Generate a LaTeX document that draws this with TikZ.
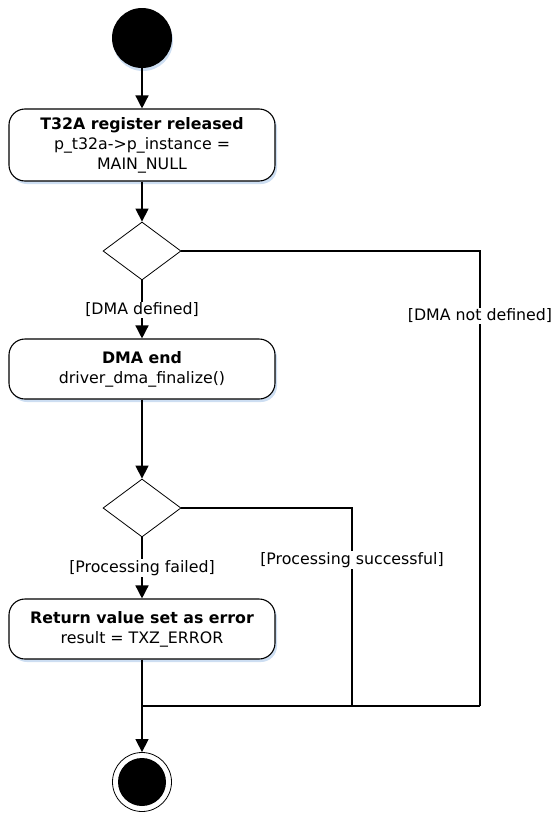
\documentclass[tikz,border=0pt]{standalone}
\usepackage{fontspec}
\setmainfont{DejaVu Sans}
\usetikzlibrary{arrows.meta,shapes.geometric,shadows}
\definecolor{shadowblue}{RGB}{205,222,242}

\begin{document}
\begin{tikzpicture}[x=1pt,y=-1pt,
  action/.style={rectangle, rounded corners=16pt, draw, line width=1.1pt, fill=white,
    minimum width=266pt, align=center, font=\fontsize{15.8}{20}\selectfont,
    drop shadow={shadow xshift=2pt, shadow yshift=-3pt, fill=shadowblue, opacity=1}},
  decision/.style={diamond, draw, line width=0.8pt, fill=white, inner sep=0pt,
    minimum width=78pt, minimum height=58pt},
  guard/.style={fill=white, inner sep=1pt, font=\fontsize{15.8}{20}\selectfont},
  flow/.style={line width=1.4pt, -{Triangle[length=13pt,width=13pt]}},
  joinline/.style={line width=1.4pt}]
\useasboundingbox (0,0) rectangle (551,814);
\node[circle, fill, inner sep=0pt, minimum size=60pt,
  drop shadow={shadow xshift=1pt, shadow yshift=-3pt, fill=shadowblue, opacity=1}] (start) at (142,38){};
\node[action, minimum height=72pt] (act1) at (142,145){\textbf{T32A register released}\\p\_t32a->p\_instance =\\MAIN\_NULL};
\node[decision] (dec1) at (142,251){};
\node[action, minimum height=60pt] (act2) at (142,369){\textbf{DMA end}\\driver\_dma\_finalize()};
\node[decision] (dec2) at (142,508){};
\node[action, minimum height=60pt] (act3) at (142,629){\textbf{Return value set as error}\\result = TXZ\_ERROR};
\node[circle, draw, line width=0.8pt, inner sep=0pt, minimum size=59pt,
  path picture={\fill (path picture bounding box.center) circle (24pt);}] (stop) at (142,782){};
\coordinate (join1) at (142,706);
\coordinate (join2) at (352,706);
\coordinate (join3) at (480,706);
\draw[flow] (start) -- (act1);
\draw[flow] (act1) -- (dec1);
\draw[flow] (dec1) -- (act2);
\draw[joinline] (dec1) -| (join3);
\draw[flow] (act2) -- (dec2);
\draw[flow] (dec2) -- (act3);
\draw[joinline] (dec2) -| (join2);
\draw[joinline] (act3) -- (join1);
\draw[joinline] (join1) -- (join3);
\draw[flow] (join1) -- (stop);
\node[guard] (g1) at (142,310){[DMA defined]};
\node[guard] (g2) at (480,316){[DMA not defined]};
\node[guard] (g3) at (142,568){[Processing failed]};
\node[guard] (g4) at (352,560){[Processing successful]};
\end{tikzpicture}
\end{document}
